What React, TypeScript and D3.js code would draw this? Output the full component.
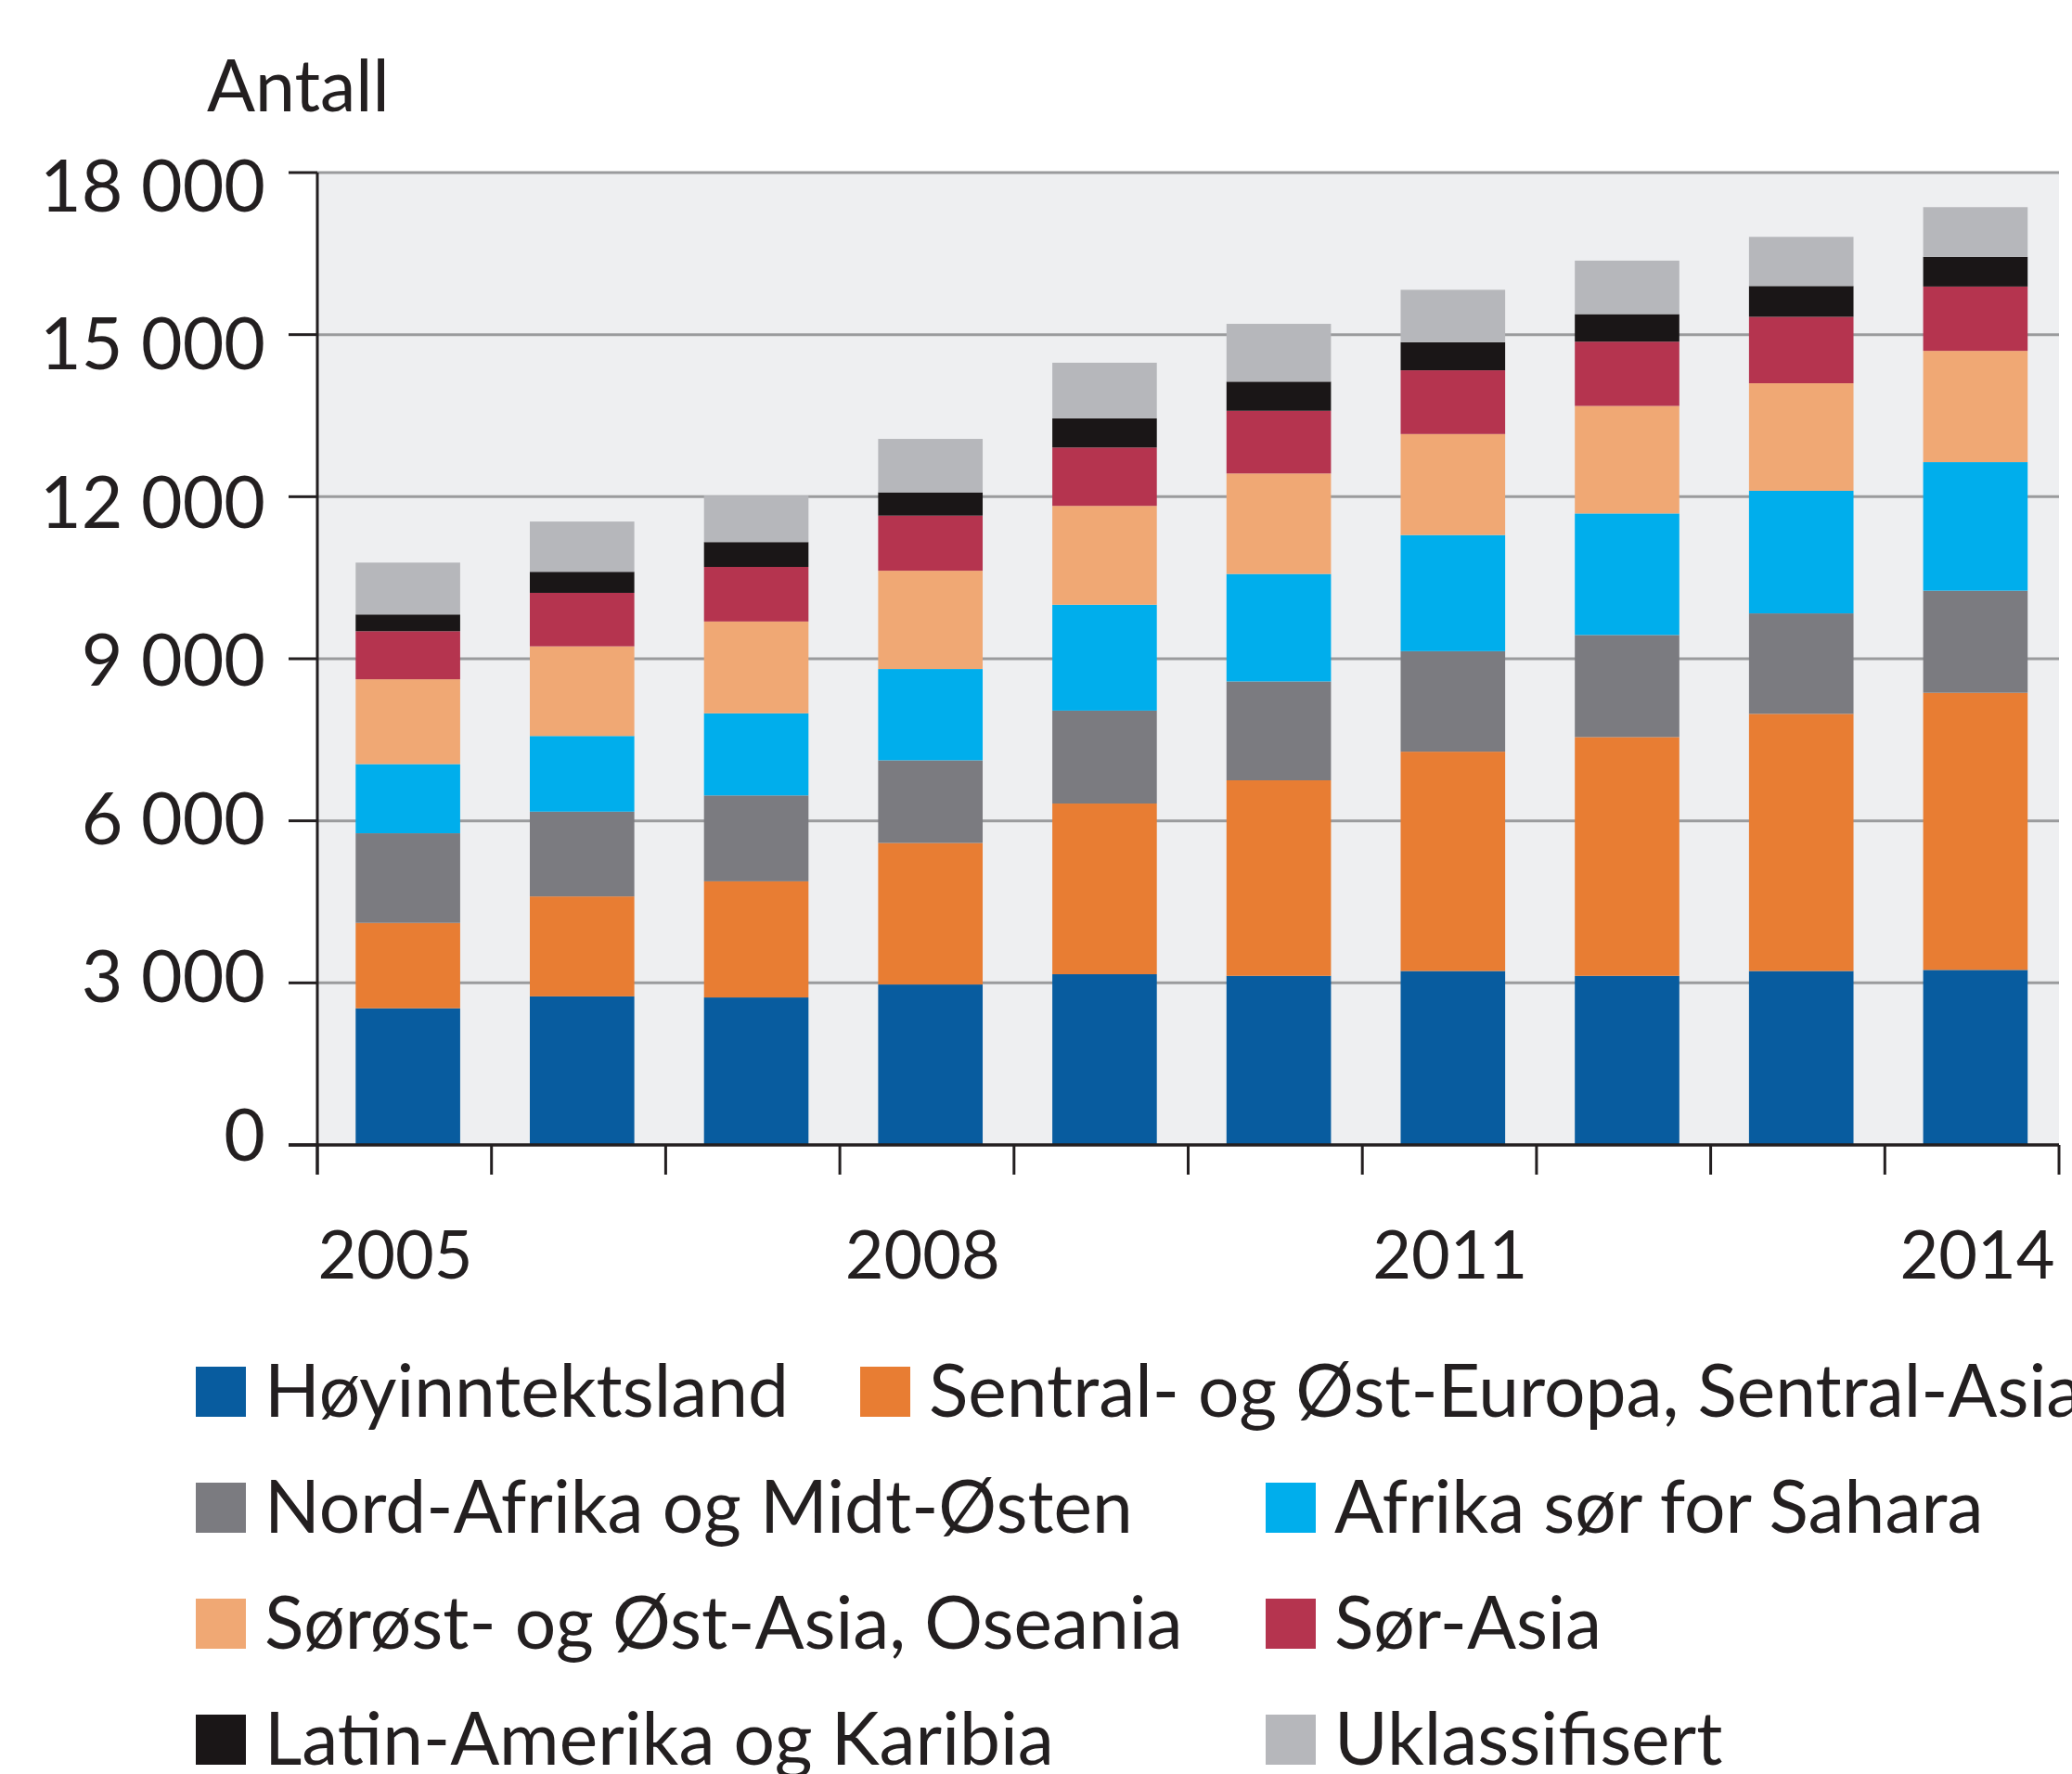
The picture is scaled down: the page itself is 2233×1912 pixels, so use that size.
import React, { useEffect, useRef } from 'react';
import * as d3 from 'd3';

const years = ['2005', '2006', '2007', '2008', '2009', '2010', '2011', '2012', '2013', '2014'];
const yearLabels = ['2005', '2008', '2011', '2014'];
const yTicks = [0, 3000, 6000, 9000, 12000, 15000, 18000];

const seriesNames = [
  'Høyinntektsland',
  'Sentral- og Øst-Europa, Sentral-Asia',
  'Nord-Afrika og Midt-Østen',
  'Afrika sør for Sahara',
  'Sørøst- og Øst-Asia, Oseania',
  'Sør-Asia',
  'Latin-Amerika og Karibia',
  'Uklassifisert',
];

const hoyinntektsland = [2530, 2750, 2730, 2970, 3160, 3130, 3220, 3130, 3220, 3240];
const sentralOstEuropa = [1580, 1850, 2150, 2620, 3160, 3620, 4060, 4420, 4760, 5130];
const nordAfrika = [1660, 1570, 1590, 1530, 1720, 1830, 1860, 1890, 1860, 1890];
const afrikaSor = [1280, 1400, 1520, 1690, 1960, 1990, 2150, 2250, 2270, 2380];
const sorostAsia = [1570, 1660, 1700, 1820, 1830, 1860, 1870, 1990, 1990, 2060];
const sorAsia = [890, 990, 1010, 1020, 1080, 1160, 1180, 1190, 1230, 1190];
const latinAmerika = [310, 390, 460, 430, 540, 540, 520, 510, 570, 550];
const uklassifisert = [960, 930, 860, 990, 1030, 1070, 970, 990, 910, 920];

const seriesValues = [
  hoyinntektsland, sentralOstEuropa, nordAfrika, afrikaSor,
  sorostAsia, sorAsia, latinAmerika, uklassifisert,
];

const colors = ['#085c9f', '#e87d33', '#7b7b80', '#00aeec', '#f0a874', '#b5344f', '#1a1617', '#b6b7bb'];

const App: React.FC = () => {
  const svgRef = useRef<SVGSVGElement>(null);

  useEffect(() => {
    if (!svgRef.current) return;
    const svg = d3.select(svgRef.current);
    svg.selectAll('*').remove();

    const left = 342, right = 2219, top = 186, bottom = 1234;
    const ink = '#231f20';
    const font = 'Lato, sans-serif';

    const rows = years.map((y, i) => {
      const row: Record<string, number | string> = { year: y };
      seriesNames.forEach((n, k) => { row[n] = seriesValues[k][i]; });
      return row;
    });
    const stacked = d3.stack<any>().keys(seriesNames)(rows);

    const x = d3.scaleBand().domain(years).range([left, right])
      .paddingInner(0.4).paddingOuter(0.2).align(0.55);
    const y = d3.scaleLinear().domain([0, 18000]).range([bottom, top]);
    // label positions in the original drift a little from the grid
    const yLabel = d3.scaleLinear().domain([0, 18000]).range([1223, 200]);
    const xLabel = d3.scaleLinear().domain([2005, 2014]).range([426, 2131]);
    const boundary = d3.scaleLinear().domain([0, years.length]).range([left, right]);

    // plot background
    svg.append('rect')
      .attr('x', left).attr('y', top)
      .attr('width', right - left).attr('height', bottom - top)
      .attr('fill', '#eeeff1');

    // grid lines
    svg.append('g').selectAll('line')
      .data(yTicks.filter(t => t > 0))
      .enter().append('line')
      .attr('x1', left).attr('x2', right)
      .attr('y1', d => y(d)).attr('y2', d => y(d))
      .attr('stroke', '#9a9b9d').attr('stroke-width', 3);

    // bars
    svg.append('g').selectAll('g')
      .data(stacked)
      .enter().append('g')
      .attr('fill', (_, i) => colors[i])
      .selectAll('rect')
      .data(d => d)
      .enter().append('rect')
      .attr('x', d => x(d.data.year as string)!)
      .attr('width', x.bandwidth())
      .attr('y', d => y(d[1]))
      .attr('height', d => y(d[0]) - y(d[1]));

    // axes
    svg.append('line')
      .attr('x1', left).attr('x2', left)
      .attr('y1', top).attr('y2', bottom + 32)
      .attr('stroke', ink).attr('stroke-width', 3);
    svg.append('line')
      .attr('x1', left - 31).attr('x2', right)
      .attr('y1', bottom).attr('y2', bottom)
      .attr('stroke', ink).attr('stroke-width', 3.5);

    svg.append('g').selectAll('line')
      .data(yTicks)
      .enter().append('line')
      .attr('x1', left - 31).attr('x2', left)
      .attr('y1', d => y(d)).attr('y2', d => y(d))
      .attr('stroke', ink).attr('stroke-width', 3);

    svg.append('g').selectAll('line')
      .data(d3.range(years.length + 1))
      .enter().append('line')
      .attr('x1', d => boundary(d)).attr('x2', d => boundary(d))
      .attr('y1', bottom).attr('y2', bottom + 32)
      .attr('stroke', ink).attr('stroke-width', 3);

    // y tick labels
    const fmt = (v: number) => d3.format(',')(v).replace(/,/g, ' ');
    svg.append('g').selectAll('text')
      .data(yTicks)
      .enter().append('text')
      .attr('x', 286)
      .attr('y', d => yLabel(d))
      .attr('dy', '0.36em')
      .attr('text-anchor', 'end')
      .style('font-family', font)
      .style('font-size', '77px')
      .attr('fill', ink)
      .text(d => fmt(d));

    // x labels
    svg.append('g').selectAll('text')
      .data(yearLabels)
      .enter().append('text')
      .attr('x', d => xLabel(+d))
      .attr('y', 1378)
      .attr('text-anchor', 'middle')
      .style('font-family', font)
      .style('font-size', '72px')
      .attr('fill', ink)
      .text(d => d);

    // unit label
    svg.append('text')
      .attr('x', 223).attr('y', 120)
      .style('font-family', font)
      .style('font-size', '77px')
      .attr('fill', ink)
      .text('Antall');

    // legend
    const legendX = [[211, 927], [211, 1364], [211, 1364], [211, 1364]];
    const legend = svg.append('g');
    seriesNames.forEach((name, i) => {
      const row = Math.floor(i / 2);
      const col = i % 2;
      const lx = legendX[row][col];
      const ly = 1473 + row * 125;
      legend.append('rect')
        .attr('x', lx).attr('y', ly)
        .attr('width', 54).attr('height', 54)
        .attr('fill', colors[i]);
      legend.append('text')
        .attr('x', lx + 74).attr('y', ly + 54)
        .style('font-family', font)
        .style('font-size', '78.5px')
        .attr('fill', ink)
        .text(name);
    });
  }, []);

  return (
    <svg
      ref={svgRef}
      width={2233}
      height={1912}
      style={{ position: 'absolute', left: 0, top: 0, background: '#fff' }}
    />
  );
};

export default App;
